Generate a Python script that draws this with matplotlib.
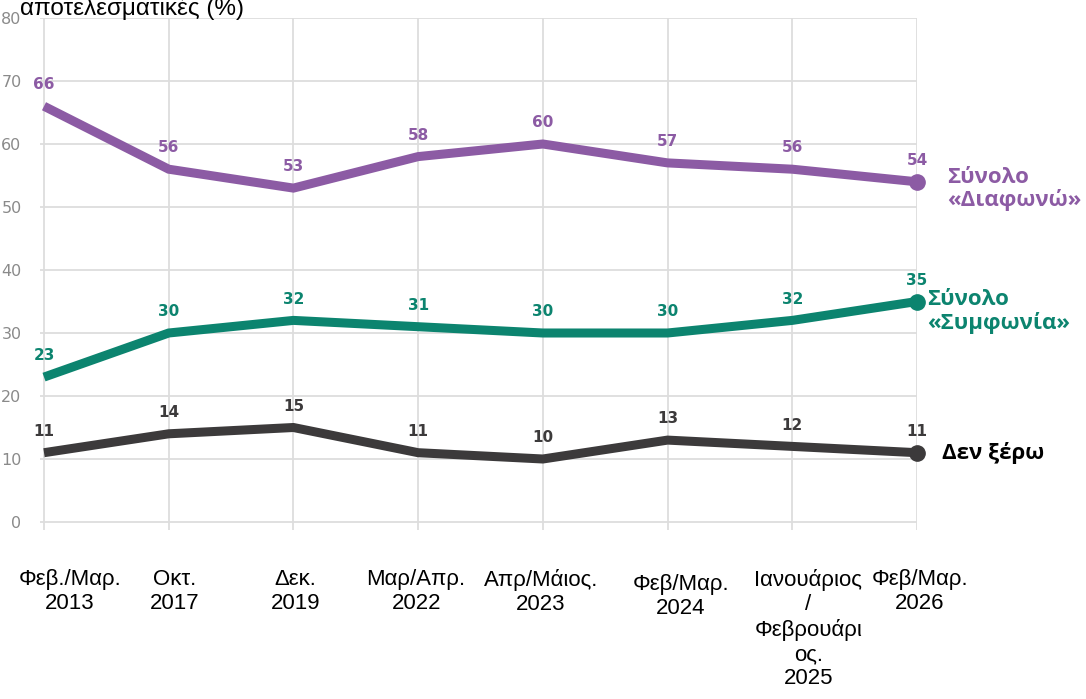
import matplotlib.pyplot as plt
from matplotlib.transforms import ScaledTranslation

periods = ['Φεβ./Μαρ.\n2013', 'Οκτ.\n2017', 'Δεκ.\n2019', 'Μαρ/Απρ.\n2022',
           'Απρ/Μάιος.\n2023', 'Φεβ/Μαρ.\n2024', 'Ιανουάριος\n/\nΦεβρουάρι\nος.\n2025',
           'Φεβ/Μαρ.\n2026']
disagree = [66, 56, 53, 58, 60, 57, 56, 54]
agree = [23, 30, 32, 31, 30, 30, 32, 35]
dont_know = [11, 14, 15, 11, 10, 13, 12, 11]

series = [
    (disagree, '#8c5ba4', 'Σύνολο\n«Διαφωνώ»'),
    (agree, '#0c846f', 'Σύνολο\n«Συμφωνία»'),
    (dont_know, '#3c3a3b', 'Δεν ξέρω'),
]

fig = plt.figure(figsize=(10.86, 6.99), dpi=100)
W, H = 1086, 699
x0, x7 = 44, 917
unit = (x7 - x0) / 7
xl = -0.035
yb = -1.3
ypx = (522 - 18) / 80
ax = fig.add_axes([(x0 + xl * unit) / W, (H - 522 - (-yb) * ypx) / H,
                   (x7 - x0 - xl * unit) / W, (522 - 18 + (-yb) * ypx) / H])
ax.set_xlim(xl, 7)
ax.set_ylim(yb, 80)
for s in ax.spines.values():
    s.set_visible(False)
ax.grid(True, color='#dddddd', linewidth=1.3)
ax.set_axisbelow(True)
ax.set_yticks(range(0, 81, 10))
ax.tick_params(axis='y', length=0, pad=13, labelsize=11.5, labelcolor='#8a8a8a')
ax.set_xticks(range(len(periods)))
ax.set_xticklabels(periods, fontsize=16, family='Liberation Sans', va='top',
                   linespacing=1.2)
ax.tick_params(axis='x', length=0, pad=28)
shifts = [(26, 0), (6, 0), (2, 0), (-2, 0), (-2, 0), (13, -5), (16, 0), (3, 0)]
for lab, (dx, dy) in zip(ax.get_xticklabels(), shifts):
    lab.set_transform(lab.get_transform() + ScaledTranslation(dx / 100, dy / 100, fig.dpi_scale_trans))

xs = list(range(len(periods)))
for vals, col, name in series:
    ax.plot(xs, vals, color=col, linewidth=6.5, solid_capstyle='butt',
            solid_joinstyle='miter', zorder=3, clip_on=False)
    ax.plot(xs[-1], vals[-1], 'o', color=col, markersize=11, zorder=4, clip_on=False)
    for x, v in zip(xs, vals):
        ax.annotate(str(v), (x, v), xytext=(0, 10), textcoords='offset points',
                    ha='center', va='bottom', fontsize=11, fontweight='bold',
                    color=col, family='DejaVu Sans')

ax.annotate(series[0][2], (7, disagree[-1]), xytext=(22, 11), textcoords='offset points',
            ha='left', va='top', fontsize=16, fontweight='bold', color=series[0][1],
            family='Open Sans', annotation_clip=False, linespacing=1.1)
ax.annotate(series[1][2], (7, agree[-1]), xytext=(7, 9), textcoords='offset points',
            ha='left', va='top', fontsize=16, fontweight='bold', color=series[1][1],
            family='Open Sans', annotation_clip=False, linespacing=1.1)
ax.annotate(series[2][2], (7, dont_know[-1]), xytext=(18, 0), textcoords='offset points',
            ha='left', va='center', fontsize=16, fontweight='bold', color='black',
            family='Open Sans', annotation_clip=False)

fig.text(20 / W, 1 - 8 / H, 'αποτελεσματικές (%)', fontsize=17.5, family='Liberation Sans',
         ha='left', va='center')

fig.savefig('out.png', dpi=100)
